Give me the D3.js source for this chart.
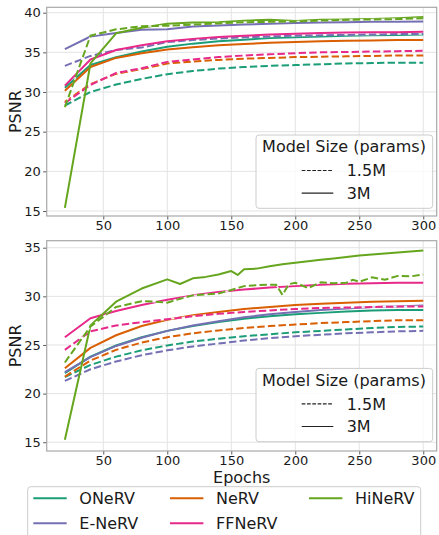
<!DOCTYPE html>
<html>
<head>
<meta charset="utf-8">
<script src="https://cdn.jsdelivr.net/npm/d3@7"></script>
<style>
  body { margin: 0; background: #fff; }
  svg text { font-family: "DejaVu Sans", sans-serif; fill: #1a1a1a; }
</style>
</head>
<body>
<svg id="chart" width="439" height="535"></svg>
<script>
// Training epochs at which PSNR was recorded
const epochs = [20, 40, 60, 80, 100, 120, 140, 160, 180, 200, 220, 240, 260, 280, 300];

// ---- Upper panel ----
const onervTop3M   = [30.55, 33.4, 34.4, 35.1, 35.7, 36.1, 36.4, 36.6, 36.8, 36.9, 37.0, 37.1, 37.15, 37.2, 37.25];
const onervTop15M  = [28.3, 30.0, 30.95, 31.65, 32.25, 32.65, 32.95, 33.15, 33.3, 33.4, 33.5, 33.6, 33.65, 33.7, 33.7];
const enervTop3M   = [35.4, 37.0, 37.45, 37.85, 37.9, 38.25, 38.4, 38.5, 38.6, 38.7, 38.75, 38.8, 38.85, 38.85, 38.9];
const enervTop15M  = [33.3, 34.55, 35.3, 35.6, 36.3, 36.55, 36.75, 36.9, 37.0, 37.1, 37.15, 37.2, 37.25, 37.3, 37.3];
const nervTop3M    = [30.15, 33.15, 34.3, 34.9, 35.35, 35.65, 35.9, 36.05, 36.2, 36.3, 36.4, 36.45, 36.5, 36.55, 36.55];
const nervTop15M   = [28.75, 31.0, 32.3, 32.9, 33.6, 33.85, 34.05, 34.2, 34.3, 34.4, 34.45, 34.5, 34.55, 34.6, 34.6];
const ffnervTop3M  = [30.8, 34.1, 35.3, 35.9, 36.4, 36.7, 36.95, 37.1, 37.25, 37.35, 37.45, 37.5, 37.55, 37.55, 37.6];
const ffnervTop15M = [28.6, 30.9, 32.4, 33.0, 33.8, 34.1, 34.4, 34.6, 34.75, 34.9, 35.0, 35.05, 35.1, 35.15, 35.2];
const hinervTop3M  = [15.4, 33.6, 37.4, 38.1, 38.6, 38.75, 38.8, 39.0, 39.1, 38.95, 39.1, 39.15, 39.2, 39.3, 39.45];
const hinervTop15M = [28.1, 37.1, 37.9, 38.3, 38.35, 38.5, 38.65, 38.8, 38.85, 38.9, 39.0, 39.1, 39.15, 39.2, 39.3];

// ---- Lower panel ----
const onervBot3M   = [22.1, 23.8, 24.95, 25.8, 26.45, 26.95, 27.35, 27.7, 27.95, 28.15, 28.3, 28.45, 28.55, 28.6, 28.6];
const onervBot15M  = [21.7, 22.95, 23.8, 24.45, 24.95, 25.35, 25.65, 25.9, 26.1, 26.3, 26.45, 26.6, 26.75, 26.85, 26.9];
const enervBot3M   = [22.2, 23.75, 24.9, 25.75, 26.45, 27.0, 27.45, 27.85, 28.15, 28.4, 28.6, 28.75, 28.9, 28.95, 29.05];
const enervBot15M  = [21.3, 22.5, 23.3, 23.95, 24.45, 24.85, 25.15, 25.45, 25.7, 25.9, 26.05, 26.2, 26.3, 26.4, 26.45];
const nervBot3M    = [22.6, 24.7, 26.0, 26.95, 27.6, 28.05, 28.4, 28.7, 28.9, 29.1, 29.25, 29.35, 29.45, 29.5, 29.55];
const nervBot15M   = [21.75, 23.4, 24.5, 25.25, 25.8, 26.2, 26.5, 26.75, 26.95, 27.1, 27.25, 27.35, 27.45, 27.55, 27.55];
const ffnervBot3M  = [25.8, 27.75, 28.5, 29.1, 29.65, 30.1, 30.45, 30.7, 30.9, 31.05, 31.2, 31.3, 31.35, 31.4, 31.4];
const ffnervBot15M = [24.5, 26.4, 27.0, 27.35, 27.65, 27.95, 28.2, 28.4, 28.55, 28.7, 28.8, 28.85, 28.9, 28.95, 28.95];
const hinervBotEpochs3M = [20, 40, 60, 80, 100, 110, 120, 130, 140, 150, 155, 160, 170, 180, 190, 200, 210, 220, 230, 240, 250, 260, 270, 280, 290, 300];
const hinervBot3M  = [15.25, 27.0, 29.45, 30.8, 31.75, 31.27, 31.85, 32.0, 32.25, 32.6, 32.2, 32.78, 32.85, 33.1, 33.3, 33.45, 33.6, 33.75, 33.9, 34.05, 34.2, 34.3, 34.4, 34.5, 34.6, 34.7];
const hinervBotEpochs15M = [20, 40, 60, 80, 90, 100, 110, 120, 130, 140, 150, 160, 170, 180, 185, 190, 195, 200, 210, 220, 230, 240, 245, 250, 260, 270, 280, 290, 300];
const hinervBot15M = [23.2, 26.9, 28.9, 29.5, 29.45, 29.35, 29.75, 30.1, 30.2, 30.3, 30.65, 31.05, 31.15, 31.2, 31.2, 30.15, 31.25, 31.4, 30.85, 31.45, 31.35, 31.4, 31.7, 31.5, 31.95, 31.7, 32.1, 32.05, 32.25];

// Models (plot order) and colours
const models = ["ONeRV", "E-NeRV", "NeRV", "FFNeRV", "HiNeRV"];
const colors = ["#1b9e77", "#7570b3", "#d95f02", "#e7298a", "#66a61e"];

const xTicks = [50, 100, 150, 200, 250, 300];
const yTicksTop = [15, 20, 25, 30, 35, 40];
const yTicksBot = [15, 20, 25, 30, 35];
const sizeLabels = ["1.5M", "3M"];

const svg = d3.select("#chart");
const color = d3.scaleOrdinal().domain(models).range(colors);

const panels = [
  {
    top: 7.3, bottom: 216, yDomain: [14.37, 40.68], yTicks: yTicksTop,
    series: [
      { m: "ONeRV", x: epochs, y3: onervTop3M, x15: epochs, y15: onervTop15M },
      { m: "E-NeRV", x: epochs, y3: enervTop3M, x15: epochs, y15: enervTop15M },
      { m: "NeRV", x: epochs, y3: nervTop3M, x15: epochs, y15: nervTop15M },
      { m: "FFNeRV", x: epochs, y3: ffnervTop3M, x15: epochs, y15: ffnervTop15M },
      { m: "HiNeRV", x: epochs, y3: hinervTop3M, x15: epochs, y15: hinervTop15M }
    ],
    xLabel: false
  },
  {
    top: 240.7, bottom: 451, yDomain: [14.1, 35.72], yTicks: yTicksBot,
    series: [
      { m: "ONeRV", x: epochs, y3: onervBot3M, x15: epochs, y15: onervBot15M },
      { m: "E-NeRV", x: epochs, y3: enervBot3M, x15: epochs, y15: enervBot15M },
      { m: "NeRV", x: epochs, y3: nervBot3M, x15: epochs, y15: nervBot15M },
      { m: "FFNeRV", x: epochs, y3: ffnervBot3M, x15: epochs, y15: ffnervBot15M },
      { m: "HiNeRV", x: hinervBotEpochs3M, y3: hinervBot3M, x15: hinervBotEpochs15M, y15: hinervBot15M }
    ],
    xLabel: true
  }
];

const left = 46.7, right = 436.7;
const x = d3.scaleLinear().domain([5.8, 310.5]).range([left, right]);

panels.forEach((p, pi) => {
  const y = d3.scaleLinear().domain(p.yDomain).range([p.bottom, p.top]);
  const g = svg.append("g");

  const clipId = "clip" + pi;
  svg.append("clipPath").attr("id", clipId)
    .append("rect").attr("x", left).attr("y", p.top).attr("width", right - left).attr("height", p.bottom - p.top);

  // grid
  g.append("g").selectAll("line").data(xTicks).join("line")
    .attr("x1", d => x(d)).attr("x2", d => x(d))
    .attr("y1", p.top).attr("y2", p.bottom)
    .attr("stroke", "#e3e3e3").attr("stroke-width", 1);
  g.append("g").selectAll("line").data(p.yTicks).join("line")
    .attr("x1", left).attr("x2", right)
    .attr("y1", d => y(d)).attr("y2", d => y(d))
    .attr("stroke", "#e3e3e3").attr("stroke-width", 1);

  // axes
  const xAxis = d3.axisBottom(x).tickValues(xTicks).tickSize(3.5).tickPadding(1.5);
  const yAxis = d3.axisLeft(y).tickValues(p.yTicks).tickSize(3.5).tickPadding(2.5);
  const gx = g.append("g").attr("transform", `translate(0,${p.bottom})`).call(xAxis);
  const gy = g.append("g").attr("transform", `translate(${left},0)`).call(yAxis);
  [gx, gy].forEach(a => {
    a.select(".domain").remove();
    a.selectAll(".tick line").attr("stroke", "#444").attr("stroke-width", 0.9);
    a.selectAll(".tick text").attr("font-size", 13).attr("fill", "#1a1a1a")
      .attr("font-family", "DejaVu Sans, sans-serif");
  });

  // lines
  const lines = g.append("g").attr("clip-path", `url(#${clipId})`);
  const lineGen = d3.line().x(d => x(d[0])).y(d => y(d[1]));
  p.series.forEach(s => {
    const c = color(s.m);
    const pts3 = s.x.map((e, i) => [e, s.y3[i]]);
    const pts15 = s.x15.map((e, i) => [e, s.y15[i]]);
    lines.append("path").attr("d", lineGen(pts3))
      .attr("fill", "none").attr("stroke", c).attr("stroke-width", 2)
      .attr("stroke-linejoin", "round");
    // dashed line with white gaps
    lines.append("path").attr("d", lineGen(pts15))
      .attr("fill", "none").attr("stroke", "#ffffff").attr("stroke-width", 1.4)
      .attr("stroke-opacity", 0.9);
    lines.append("path").attr("d", lineGen(pts15))
      .attr("fill", "none").attr("stroke", c).attr("stroke-width", 2)
      .attr("stroke-dasharray", "7.4,3.2");
  });

  // frame
  g.append("rect").attr("x", left).attr("y", p.top)
    .attr("width", right - left).attr("height", p.bottom - p.top)
    .attr("fill", "none").attr("stroke", "#a8a8a8").attr("stroke-width", 1.2);

  // y label
  g.append("text")
    .attr("transform", `translate(21,${(p.top + p.bottom) / 2}) rotate(-90)`)
    .attr("text-anchor", "middle").attr("font-size", 16).text("PSNR");

  // model-size legend
  const lg = g.append("g").attr("transform", `translate(256,${p.top + 127.7})`);
  lg.append("rect").attr("width", 176.7).attr("height", 73.3).attr("rx", 3)
    .attr("fill", "#fff").attr("fill-opacity", 0.8).attr("stroke", "#cccccc");
  lg.append("text").attr("x", 88).attr("y", 17.3).attr("text-anchor", "middle")
    .attr("font-size", 16).text("Model Size (params)");
  sizeLabels.forEach((lab, i) => {
    const yy = 35.5 + i * 22.6;
    lg.append("line").attr("x1", 45.7).attr("x2", 77.3).attr("y1", yy).attr("y2", yy)
      .attr("stroke", "#222").attr("stroke-width", 1.1)
      .attr("stroke-dasharray", i === 0 ? "3.7,1.6" : null);
    lg.append("text").attr("x", 90.7).attr("y", yy + 5.7).attr("font-size", 16).text(lab);
  });

  if (p.xLabel) {
    g.append("text").attr("x", (left + right) / 2).attr("y", p.bottom + 31.5)
      .attr("text-anchor", "middle").attr("font-size", 16).text("Epochs");
  }
});

// model legend below the panels (column-major, 3 columns)
const leg = svg.append("g");
leg.append("rect").attr("x", 27.7).attr("y", 486.7).attr("width", 393).attr("height", 70).attr("rx", 3)
  .attr("fill", "#fff").attr("stroke", "#cccccc");
const colX = [33.3, 170, 309];
models.forEach((m, i) => {
  const col = Math.floor(i / 2), row = i % 2;
  const yy = 498.3 + row * 25;
  leg.append("line").attr("x1", colX[col]).attr("x2", colX[col] + 33.4)
    .attr("y1", yy).attr("y2", yy).attr("stroke", color(m)).attr("stroke-width", 2);
  leg.append("text").attr("x", colX[col] + 46).attr("y", yy + 5.8).attr("font-size", 16).text(m);
});
</script>
</body>
</html>
